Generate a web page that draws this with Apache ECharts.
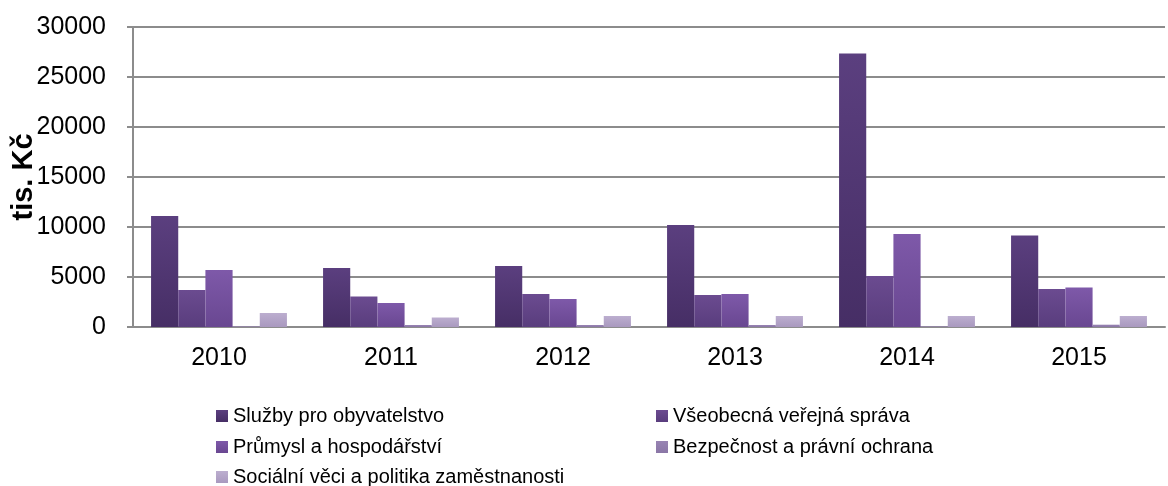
<!DOCTYPE html>
<html>
<head>
<meta charset="utf-8">
<script src="https://cdn.jsdelivr.net/npm/echarts@6/dist/echarts.min.js"></script>
<style>
html, body { margin: 0; padding: 0; background: #fff; }
#chart { width: 1168px; height: 486px; }
</style>
</head>
<body>
<div id="chart"></div>
<script>
var years = ['2010', '2011', '2012', '2013', '2014', '2015'];
var seriesNames = [
	'Služby pro obyvatelstvo',
	'Všeobecná veřejná správa',
	'Průmysl a hospodářství',
	'Bezpečnost a právní ochrana',
	'Sociální věci a politika zaměstnanosti'
];
var sluzby = [11100, 5900, 6100, 10200, 27350, 9150];
var sprava = [3700, 3050, 3300, 3200, 5100, 3800];
var prumysl = [5700, 2400, 2800, 3300, 9300, 3950];
var bezpecnost = [60, 200, 200, 200, 60, 230];
var socialni = [1400, 950, 1100, 1100, 1100, 1100];
var yTicks = [0, 5000, 10000, 15000, 20000, 25000, 30000];

// barvy: [nahore, dole]
var colors = [
	['#5b3f7f', '#462e65'],
	['#6b4b90', '#593d7d'],
	['#7e59a9', '#694791'],
	['#9884b3', '#8a76a6'],
	['#bcaecf', '#a999bf']
];
var values = [sluzby, sprava, prumysl, bezpecnost, socialni];

function grad(c) {
	return new echarts.graphic.LinearGradient(0, 0, 0, 1, [
		{ offset: 0, color: c[0] },
		{ offset: 1, color: c[1] }
	]);
}

var series = [];
for (var i = 0; i < seriesNames.length; i++) {
	series.push({
		name: seriesNames[i],
		type: 'bar',
		data: values[i],
		barGap: '0%',
		barCategoryGap: '21%',
		itemStyle: { color: grad(colors[i]) }
	});
}

// legenda ve dvou sloupcich
var legendPos = [[211, 401], [651, 401], [211, 432], [651, 432], [211, 462]];
var legends = seriesNames.map(function (n, k) {
	return {
		data: [n],
		left: legendPos[k][0], top: legendPos[k][1],
		itemWidth: 12, itemHeight: 12, itemGap: 0,
		icon: 'rect',
		textStyle: { fontFamily: 'Liberation Sans, Arial', fontSize: 20, color: '#000' }
	};
});

var chartDom = document.getElementById('chart');
var myChart = echarts.init(chartDom);
var option = {
	animation: false,
	color: colors.map(function (c) { return c[1]; }),
	grid: { left: 133, right: 3, top: 27, bottom: 159, containLabel: false, outerBoundsMode: 'none' },
	legend: legends,
	xAxis: {
		type: 'category',
		data: years,
		axisLine: { lineStyle: { color: '#8c8c8c', width: 2 } },
		axisTick: { show: false },
		axisLabel: { fontFamily: 'Liberation Sans, Arial', fontSize: 25, color: '#000', margin: 19 }
	},
	yAxis: {
		type: 'value',
		min: yTicks[0],
		max: yTicks[yTicks.length - 1],
		interval: yTicks[1] - yTicks[0],
		name: 'tis. Kč',
		nameLocation: 'middle',
		nameGap: 95,
		nameMoveOverlap: false,
		nameRotate: 90,
		nameTextStyle: { fontFamily: 'Liberation Sans, Arial', fontSize: 29, fontWeight: 'bold', color: '#000' },
		axisLine: { show: true, lineStyle: { color: '#8c8c8c', width: 2 } },
		axisTick: { show: true, length: 6, lineStyle: { color: '#8c8c8c', width: 2 } },
		axisLabel: {
			fontFamily: 'Liberation Sans, Arial', fontSize: 25, color: '#000', margin: 27,
			formatter: function (v) { return String(v); }
		},
		splitLine: { lineStyle: { color: '#8c8c8c', width: 2 } }
	},
	series: series
};
option && myChart.setOption(option);
</script>
</body>
</html>
